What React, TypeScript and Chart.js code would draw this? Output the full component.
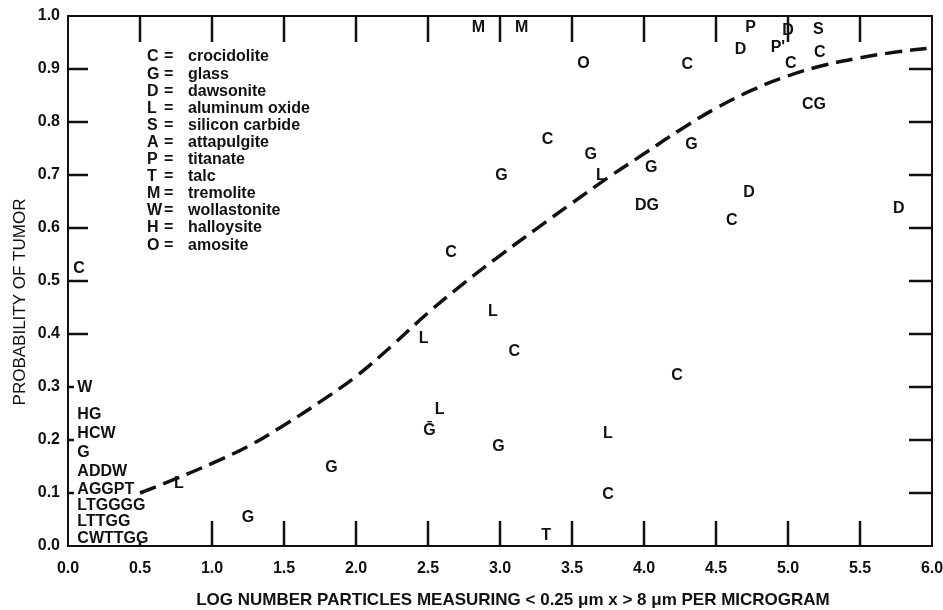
import React, { useEffect, useRef } from "react";
import { Chart, registerables } from "chart.js";

Chart.register(...registerables);

// Fitted dose-response curve (dashed)
const curveX = [0.5, 0.75, 1.0, 1.25, 1.5, 1.75, 2.0, 2.25, 2.5, 2.75, 3.0, 3.25, 3.5, 3.75, 4.0, 4.25, 4.5, 4.75, 5.0, 5.25, 5.5, 5.75, 6.0];
const curveY = [0.10, 0.127, 0.156, 0.188, 0.228, 0.272, 0.32, 0.378, 0.44, 0.496, 0.548, 0.598, 0.647, 0.695, 0.74, 0.785, 0.826, 0.86, 0.887, 0.907, 0.921, 0.932, 0.94];

// Individual fibre samples (letter = fibre type)
const markLabels = ["M", "M", "O", "C", "G", "G", "L", "C", "C", "D", "P", "D", "S", "P'", "C", "C", "CG", "G", "G", "DG", "D", "C", "D", "C", "L", "L", "C", "L", "\u1E20", "G", "L", "C", "T", "G", "G", "L", "C"];
const markX = [2.85, 3.15, 3.58, 3.33, 3.63, 3.01, 3.70, 2.66, 4.30, 4.67, 4.74, 5.00, 5.21, 4.93, 5.02, 5.22, 5.18, 4.33, 4.05, 4.02, 4.73, 4.61, 5.77, 0.077, 2.95, 2.47, 3.10, 2.58, 2.51, 2.99, 3.75, 3.75, 3.32, 1.83, 1.25, 0.77, 4.23];
const markY = [0.98, 0.98, 0.913, 0.769, 0.74, 0.70, 0.70, 0.555, 0.911, 0.938, 0.98, 0.975, 0.977, 0.942, 0.913, 0.932, 0.835, 0.76, 0.715, 0.644, 0.669, 0.615, 0.638, 0.525, 0.445, 0.394, 0.368, 0.26, 0.22, 0.19, 0.214, 0.098, 0.022, 0.15, 0.055, 0.12, 0.324];

// Samples stacked near zero particles
const stackLabels = ["W", "HG", "HCW", "G", "ADDW", "AGGPT", "LTGGGG", "LTTGG", "CWTTGG"];
const stackX = [0.065, 0.065, 0.065, 0.065, 0.065, 0.065, 0.065, 0.065, 0.065];
const stackY = [0.30, 0.25, 0.214, 0.178, 0.143, 0.108, 0.078, 0.047, 0.016];

// Key
const keyCodes = ["C", "G", "D", "L", "S", "A", "P", "T", "M", "W", "H", "O"];
const keyNames = ["crocidolite", "glass", "dawsonite", "aluminum oxide", "silicon carbide", "attapulgite", "titanate", "talc", "tremolite", "wollastonite", "halloysite", "amosite"];

const xTitle = "LOG NUMBER PARTICLES MEASURING < 0.25 \u03BCm x > 8 \u03BCm PER MICROGRAM";
const yTitle = "PROBABILITY OF TUMOR";

const FONT = "'Liberation Sans', Arial, Helvetica, sans-serif";
const INK = "#111";

const drawPlugin = {
  id: "asbestosDecor",
  afterDatasetsDraw(chart: any) {
    const { ctx, chartArea: a, scales } = chart;
    const xs = scales.x;
    const ys = scales.y;
    ctx.save();
    ctx.strokeStyle = INK;
    ctx.fillStyle = INK;
    ctx.lineCap = "butt";

    // frame
    ctx.lineWidth = 2;
    ctx.strokeRect(a.left, a.top, a.right - a.left, a.bottom - a.top);

    const line = (x1: number, y1: number, x2: number, y2: number) => {
      ctx.beginPath();
      ctx.moveTo(x1, y1);
      ctx.lineTo(x2, y2);
      ctx.stroke();
    };

    // inward tick marks
    ctx.lineWidth = 2.5;
    xs.ticks.forEach((t: any) => {
      if (t.value <= 0 || t.value >= 6) return;
      const px = xs.getPixelForValue(t.value);
      line(px, a.top, px, a.top + 26);
      line(px, a.bottom, px, a.bottom - (t.value < 0.75 ? 4 : 25));
    });
    ys.ticks.forEach((t: any) => {
      if (t.value <= 0 || t.value >= 1) return;
      const py = ys.getPixelForValue(t.value);
      line(a.left, py, a.left + (t.value < 0.35 ? 6 : 20), py);
      line(a.right, py, a.right - 23, py);
    });

    // letter marks
    ctx.font = `bold 16px ${FONT}`;
    ctx.textBaseline = "middle";
    chart.data.datasets.forEach((ds: any, i: number) => {
      if (!ds.textLabels) return;
      const meta = chart.getDatasetMeta(i);
      ctx.textAlign = ds.textAlign || "center";
      meta.data.forEach((el: any, j: number) => {
        ctx.fillText(ds.textLabels[j], el.x, el.y + 1);
      });
    });

    // key
    ctx.font = `bold 16px ${FONT}`;
    ctx.textAlign = "left";
    const kx = a.left + 79;
    const ky = a.top + 41;
    keyCodes.forEach((c, i) => {
      const y = ky + i * 17.1;
      ctx.fillText(c, kx, y);
      ctx.fillText("=", kx + 17, y);
      ctx.fillText(keyNames[i], kx + 41, y);
    });

    // axis titles
    ctx.font = `bold 17px ${FONT}`;
    ctx.textAlign = "center";
    ctx.fillText(xTitle, 513, 600);
    ctx.save();
    ctx.translate(20, 302);
    ctx.rotate(-Math.PI / 2);
    ctx.font = `17px ${FONT}`;
    ctx.fillText(yTitle, 0, 0);
    ctx.restore();

    ctx.restore();
  },
};

export default function App() {
  const ref = useRef<HTMLCanvasElement | null>(null);

  useEffect(() => {
    if (!ref.current) return;
    const chart = new Chart(ref.current, {
      type: "scatter",
      data: {
        datasets: [
          {
            type: "line",
            data: curveX.map((x, i) => ({ x, y: curveY[i] })),
            borderColor: INK,
            borderWidth: 3.5,
            borderDash: [17, 8],
            pointRadius: 0,
            fill: false,
            tension: 0.4,
          } as any,
          {
            data: markX.map((x, i) => ({ x, y: markY[i] })),
            pointRadius: 0,
            textLabels: markLabels,
            textAlign: "center",
          } as any,
          {
            data: stackX.map((x, i) => ({ x, y: stackY[i] })),
            pointRadius: 0,
            textLabels: stackLabels,
            textAlign: "left",
          } as any,
        ],
      },
      options: {
        animation: false,
        responsive: false,
        maintainAspectRatio: false,
        layout: { padding: { left: 0, top: 16, right: 11, bottom: 0 } },
        plugins: { legend: { display: false }, tooltip: { enabled: false } },
        scales: {
          x: {
            type: "linear",
            min: 0,
            max: 6,
            grid: { display: false, drawTicks: false },
            border: { display: false },
            ticks: {
              stepSize: 0.5,
              padding: 13,
              color: INK,
              maxRotation: 0,
              autoSkip: false,
              font: { family: FONT, size: 16, weight: "bold" },
              callback: (v: any) => Number(v).toFixed(1),
            },
            afterFit: (s: any) => {
              s.height = 64;
              s.paddingLeft = 0;
              s.paddingRight = 0;
            },
          },
          y: {
            type: "linear",
            min: 0,
            max: 1,
            grid: { display: false, drawTicks: false },
            border: { display: false },
            ticks: {
              stepSize: 0.1,
              padding: 8,
              color: INK,
              autoSkip: false,
              font: { family: FONT, size: 16, weight: "bold" },
              callback: (v: any) => Number(v).toFixed(1),
            },
            afterFit: (s: any) => {
              s.width = 68;
              s.paddingTop = 0;
              s.paddingBottom = 0;
            },
          },
        },
      } as any,
      plugins: [drawPlugin],
    });
    return () => chart.destroy();
  }, []);

  return (
    <div style={{ position: "absolute", left: 0, top: 0, width: 943, height: 610, background: "#fff" }}>
      <canvas ref={ref} width={943} height={610} style={{ display: "block" }} />
    </div>
  );
}
